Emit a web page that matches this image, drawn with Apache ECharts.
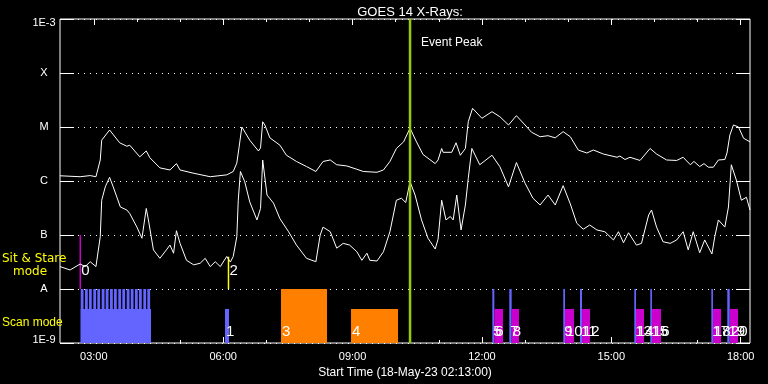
<!DOCTYPE html>
<html><head><meta charset="utf-8">
<script src="https://cdn.jsdelivr.net/npm/echarts@6/dist/echarts.min.js"></script>
<style>html,body{margin:0;padding:0;background:#000;}#c{width:768px;height:384px;}</style>
</head><body><div id="c"></div>
<script>
// ---------- DATA ----------
const startTime = "02:13:00";
const spanHours = 16;
const majorHours = [3, 6, 9, 12, 15, 18];
const minorHours = [4, 5, 7, 8, 10, 11, 13, 14, 16, 17];
const yTickNames = ["1E-9", "A", "B", "C", "M", "X", "1E-3"];

// GOES long channel (upper curve)
const longTimes = [
 "02:13","02:41","02:55","03:03","03:09","03:11","03:22","03:36","03:46","03:50",
 "04:04","04:13","04:18","04:32","04:46","04:55","05:00","05:18","05:42","06:05",
 "06:14","06:19","06:22","06:26","06:28","06:37","06:49","06:52","06:55","06:58",
 "07:05","07:19","07:28","07:42","07:56","08:09","08:19","08:29","08:38","08:52",
 "09:06","09:15","09:34","09:43","09:52","10:01","10:11","10:20","10:29","10:38",
 "10:55","10:59","11:04","11:06","11:18","11:24","11:30","11:37","11:41","11:47",
 "12:00","12:14","12:25","12:37","12:48","13:00","13:09","13:21","13:32","13:42",
 "13:53","14:03","14:14","14:26","14:35","14:49","15:08","15:12","15:19","15:26",
 "15:40","15:54","16:03","16:17","16:31","16:40","16:50","16:55","17:03","17:09",
 "17:15","17:22","17:29","17:38","17:41","17:45","17:50","17:57","18:04","18:13"];
const longFlux = [
 1.25e-6,1.2e-6,1.26e-6,1.2e-6,2.45e-6,5.7e-6,8.8e-6,5.1e-6,4.4e-6,4.6e-6,
 2.8e-6,3.6e-6,2.7e-6,1.75e-6,1.6e-6,2.1e-6,1.6e-6,1.4e-6,1.2e-6,1.3e-6,
 1.5e-6,2.15e-6,4.1e-6,1.0e-5,1.0e-5,5.7e-6,3.6e-6,4.1e-6,1.25e-5,1.09e-5,
 6.3e-6,4.6e-6,3.0e-6,2.3e-6,1.85e-6,1.5e-6,2.3e-6,2.45e-6,2.0e-6,1.9e-6,
 1.65e-6,1.5e-6,1.45e-6,1.6e-6,2.3e-6,4.0e-6,5.3e-6,9.5e-6,5.3e-6,3.1e-6,
 2.1e-6,2.45e-6,4.0e-6,3.4e-6,3.4e-6,5.1e-6,3.0e-6,4.0e-6,1.25e-5,2.22e-5,
 1.45e-5,1.92e-5,1.55e-5,1.09e-5,1.62e-5,1.09e-5,8.0e-6,6.6e-6,6.9e-6,6.3e-6,
 8.2e-6,6.6e-6,3.75e-6,3.3e-6,3.75e-6,3.16e-6,2.75e-6,2.9e-6,2.5e-6,2.75e-6,
 2.4e-6,4.0e-6,3.16e-6,2.45e-6,2.4e-6,2.75e-6,2.0e-6,2.3e-6,1.85e-6,2.1e-6,
 1.8e-6,1.8e-6,2.45e-6,2.5e-6,3.3e-6,7.1e-6,1.09e-5,1.0e-5,6.2e-6,5.3e-6];

// GOES short channel (lower curve)
const shortTimes = [
 "02:13","02:27","02:41","02:48","02:55","03:03","03:09","03:11","03:16","03:22",
 "03:27","03:37","03:46","03:50","04:00","04:07","04:13","04:16","04:23","04:32",
 "04:41","04:46","04:51","04:55","05:00","05:09","05:19","05:28","05:35","05:42",
 "05:49","05:56","06:05","06:10","06:14","06:19","06:21","06:24","06:30","06:37",
 "06:47","06:52","06:55","07:01","07:10","07:19","07:31","07:42","07:56","08:09",
 "08:15","08:19","08:29","08:38","08:47","08:56","09:06","09:13","09:20","09:24",
 "09:34","09:43","09:52","10:01","10:08","10:14","10:20","10:27","10:36","10:45",
 "10:55","10:59","11:04","11:10","11:16","11:20","11:25","11:31","11:37","11:41",
 "11:46","11:57","12:14","12:25","12:37","12:48","13:00","13:11","13:21","13:32",
 "13:42","13:53","14:03","14:12","14:21","14:30","14:40","14:51","15:03","15:10",
 "15:17","15:24","15:35","15:42","15:52","15:56","16:03","16:12","16:22","16:31",
 "16:40","16:47","16:54","17:03","17:10","17:20","17:24","17:29","17:38","17:43",
 "17:47","17:54","18:01","18:08","18:13"];
const shortFlux = [
 2.6e-8,2.25e-8,2.9e-8,2.6e-8,3.2e-8,2.6e-8,9.3e-8,4.4e-7,7.8e-7,1.17e-6,
 7.8e-7,3.3e-7,2.9e-7,2.5e-7,1.4e-7,8.7e-8,3.1e-7,1.9e-7,5.3e-8,3.7e-8,
 5.3e-8,6.5e-8,4.6e-8,1.2e-7,7.0e-8,3.4e-8,2.8e-8,3.0e-8,3.7e-8,2.6e-8,
 3.2e-8,2.6e-8,4.0e-8,3.16e-8,4.0e-8,9.3e-8,4.4e-7,1.5e-6,9.7e-7,4.1e-7,
 1.9e-7,3.1e-7,2.45e-6,5.5e-7,3.9e-7,2.0e-7,1.15e-7,6.5e-8,3.7e-8,3.2e-8,
 1.0e-7,1.4e-7,1.15e-7,5.7e-8,7.0e-8,6.5e-8,4.9e-8,3.4e-8,4.6e-8,3.4e-8,
 3.3e-8,4.9e-8,1.15e-7,4.4e-7,4.8e-7,4.0e-7,9.7e-7,5.5e-7,1.9e-7,8.7e-8,
 5.5e-8,8.4e-8,4.4e-7,1.9e-7,2.2e-7,1.9e-7,5.5e-7,1.24e-7,3.6e-7,1.12e-6,
 4.0e-6,2.0e-6,3.0e-6,1.84e-6,7.8e-7,2.2e-6,9.1e-7,4.8e-7,3.6e-7,5.5e-7,
 3.6e-7,8.2e-7,3.75e-7,1.65e-7,1.28e-7,1.53e-7,1.24e-7,1.15e-7,8.1e-8,1.15e-7,
 7.2e-8,1.1e-7,6.5e-8,7.0e-8,2.35e-7,2.9e-7,1.4e-7,7.5e-8,7.0e-8,8.1e-8,
 1.15e-7,5.3e-8,1.15e-7,4.7e-8,8.1e-8,4.45e-8,9.3e-8,1.9e-7,1.4e-7,3.3e-7,
 2.0e-6,1.04e-6,4.4e-7,5.0e-7,2.9e-7];

// raster scan block (blue)
const rasterStart = "02:41:48";
const rasterEnd = "04:19:36";
const rasterBaseTop = 4.27e-9;
const rasterStepTop = 1e-8;
const rasterStepStarts = ["02:41:48","02:47:48","02:53:18","02:59:18","03:04:54","03:11:00",
 "03:16:36","03:22:36","03:28:06","03:34:06","03:39:42","03:45:48","03:51:24","03:57:18",
 "04:02:54","04:08:54","04:14:30"];
const rasterStepMinutes = 3.9;

// observations
const obsLabels = ["1","3","4","5","6","7","8","9","10","11","12","13","14","15","16","17","18","19","20"];
const obsStart = ["06:02:36","07:20:30","08:57:54","12:14:30","12:17:18","12:38:06","12:41:24",
 "13:53:12","13:55:36","14:16:30","14:19:18","15:32:00","15:34:24","15:54:18","15:56:36",
 "17:19:12","17:21:30","17:41:24","17:45:12"];
const obsEnd = ["06:08:06","08:24:30","10:03:18","12:17:18","12:29:24","12:41:24","12:51:36",
 "13:55:36","14:08:12","14:19:18","14:30:24","15:34:24","15:45:30","15:56:36","16:09:12",
 "17:21:30","17:32:42","17:44:48","17:56:18"];
const obsTop = [4.27e-9,1e-8,4.27e-9,1e-8,4.27e-9,1e-8,4.27e-9,1e-8,4.27e-9,1e-8,4.27e-9,
 1e-8,4.27e-9,1e-8,4.27e-9,1e-8,4.27e-9,1e-8,4.27e-9];
const obsKind = ["scan","stare","stare","scan","mag","scan","mag","scan","mag","scan","mag",
 "scan","mag","scan","mag","scan","mag","scan","mag"];

// sit & stare markers
const markLabels = ["0","2"];
const markTimes = ["02:41:12","06:07:24"];
const markTop = [1e-7, 3.96e-8];
const markKind = ["mag","yellow"];

const eventPeakTime = "10:20:00";

// ---------- CHART ----------
const FONT = '"Liberation Sans", Arial, sans-serif';
const COLORS = {scan:'#6464ff', stare:'#ff8000', mag:'#cc00cc', yellow:'#ffff00', peak:'#99cc00'};
const parseT = s => { const p = s.split(':').map(Number); return p[0] + p[1]/60 + (p[2]||0)/3600; };
const T0 = parseT(startTime), T1 = T0 + spanHours;
const FLOOR = 1e-9, CEIL = 1e-3;

const longData = longTimes.map((t,i)=>[parseT(t), longFlux[i]]);
const shortData = shortTimes.map((t,i)=>[parseT(t), shortFlux[i]]);

const rasterData = [[parseT(rasterStart), parseT(rasterEnd), rasterBaseTop]]
  .concat(rasterStepStarts.map(s=>[parseT(s), parseT(s)+rasterStepMinutes/60, rasterStepTop]));
const obsData = obsStart.map((s,i)=>[parseT(s), parseT(obsEnd[i]), obsTop[i]]);
const markData = markTimes.map((s,i)=>[parseT(s), markTop[i]]);

function rectRender(colorFn, labelFn) {
  return function(params, api) {
    const s = api.value(0), e = api.value(1), top = api.value(2);
    const p0 = api.coord([s, top]), p1 = api.coord([e, FLOOR]);
    const children = [{type:'rect', z2:1, shape:{x:p0[0], y:p0[1], width:Math.max(1,p1[0]-p0[0]), height:p1[1]-p0[1]},
      style:{fill: colorFn(params.dataIndex)}}];
    const lab = labelFn ? labelFn(params.dataIndex) : null;
    if (lab) children.push({type:'text', z2:100, x:p0[0]+1, y:p1[1]-4,
      style:{text:lab, fill:'#fff', font:'15px '+FONT, textAlign:'left', textVerticalAlign:'bottom'}});
    return {type:'group', children};
  };
}

const chart = echarts.init(document.getElementById('c'), null, {renderer:'canvas'});
const xBase = {type:'value', min:T0, max:T1, gridIndex:0, splitLine:{show:false},
  axisLine:{show:false, onZero:false}};
const yRich = {
  n:{color:'#fff', fontSize:11, fontFamily:FONT, lineHeight:13},
  s:{fontSize:1, lineHeight:8},
  s2:{fontSize:1, lineHeight:7}
};
chart.setOption({
  backgroundColor:'#000',
  animation:false,
  title:{text:'GOES 14 X-Rays:', left:405, top:1, textAlign:'center',
    textStyle:{color:'#fff', fontSize:13, fontWeight:'normal', fontFamily:FONT}},
  grid:{left:60, top:19, width:690, height:324, show:true, borderColor:'#fff', borderWidth:1,
    backgroundColor:'transparent', containLabel:false},
  xAxis:[
    Object.assign({}, xBase, {position:'bottom',
      axisTick:{inside:true, length:6, customValues:majorHours, lineStyle:{color:'#fff'}},
      axisLabel:{customValues:majorHours, color:'#fff', fontSize:11, fontFamily:FONT, margin:8,
        formatter:v=>(v<10?'0':'')+v+':00'},
      name:'Start Time (18-May-23 02:13:00)', nameLocation:'middle', nameGap:18,
      nameTextStyle:{color:'#fff', fontSize:12, fontFamily:FONT}}),
    Object.assign({}, xBase, {position:'bottom',
      axisTick:{inside:true, length:3, customValues:minorHours, lineStyle:{color:'#fff'}},
      axisLabel:{show:false}}),
    Object.assign({}, xBase, {position:'top',
      axisTick:{inside:true, length:6, customValues:majorHours, lineStyle:{color:'#fff'}},
      axisLabel:{show:false}}),
    Object.assign({}, xBase, {position:'top',
      axisTick:{inside:true, length:3, customValues:minorHours, lineStyle:{color:'#fff'}},
      axisLabel:{show:false}})
  ],
  yAxis:[
    {type:'log', logBase:10, min:FLOOR, max:CEIL, position:'left', splitNumber:6,
     axisLine:{show:false},
     axisTick:{inside:true, length:14, lineStyle:{color:'#fff'}},
     axisLabel:{color:'#fff', fontSize:11, fontFamily:FONT, align:'center', margin:16,
       formatter:v=>{ const k = Math.round(Math.log10(v)) + 9; const n = yTickNames[k];
         if (k===6) return '{s| }\n{n|'+n+'}';
         if (k===0) return '{n|'+n+'}\n{s2| }';
         return '{n|'+n+'}'; },
       rich:yRich},
     splitLine:{show:true, lineStyle:{color:'#fff', type:[1,5], width:1}}},
    {type:'log', logBase:10, min:FLOOR, max:CEIL, position:'right', splitNumber:6,
     axisLine:{show:false},
     axisTick:{inside:true, length:14, lineStyle:{color:'#fff'}},
     axisLabel:{show:false}, splitLine:{show:false}}
  ],
  series:[
    {type:'line', data:longData, showSymbol:false, symbol:'none', lineStyle:{color:'#fff', width:1}, z:5},
    {type:'line', data:shortData, showSymbol:false, symbol:'none', lineStyle:{color:'#fff', width:1}, z:5},
    {type:'custom', data:rasterData, encode:{x:[0,1], y:2}, z:3,
     renderItem: rectRender(()=>COLORS.scan, null)},
    {type:'custom', data:obsData, encode:{x:[0,1], y:2}, z:4,
     renderItem: rectRender(i=>COLORS[obsKind[i]], i=>obsLabels[i])},
    {type:'custom', data:markData, encode:{x:0, y:1}, z:4,
     renderItem:(params, api)=>{
       const t = api.value(0), top = api.value(1);
       const p0 = api.coord([t, top]), p1 = api.coord([t, 1e-8]);
       return {type:'group', children:[
         {type:'line', shape:{x1:p0[0], y1:p0[1], x2:p1[0], y2:p1[1]},
          style:{stroke:COLORS[markKind[params.dataIndex]], lineWidth:1.5}},
         {type:'text', x:p1[0]+1, y:p1[1]-11,
          style:{text:markLabels[params.dataIndex], fill:'#fff', font:'15px '+FONT, textAlign:'left', textVerticalAlign:'bottom'}}
       ]};
     }},
    {type:'custom', data:[[parseT(eventPeakTime)]], encode:{x:0}, z:6,
     renderItem:(params, api)=>{
       const t = api.value(0);
       const p0 = api.coord([t, CEIL]), p1 = api.coord([t, FLOOR]);
       return {type:'group', children:[
         {type:'line', shape:{x1:p0[0], y1:p0[1], x2:p1[0], y2:p1[1]}, style:{stroke:COLORS.peak, lineWidth:2.5}},
         {type:'text', x:p0[0]+11, y:p0[1]+24,
          style:{text:'Event Peak', fill:'#fff', font:'12px '+FONT, textAlign:'left', textVerticalAlign:'middle'}}
       ]};
     }}
  ],
  graphic:[
    {type:'text', left:2, top:253, style:{text:'Sit & Stare', fill:'#ffff00', font:'12px "DejaVu Sans", sans-serif'}},
    {type:'text', left:13, top:266, style:{text:'mode', fill:'#ffff00', font:'12px "DejaVu Sans", sans-serif'}},
    {type:'text', left:2, top:317, style:{text:'Scan mode', fill:'#ffff00', font:'12px '+FONT}}
  ]
});
</script></body></html>
